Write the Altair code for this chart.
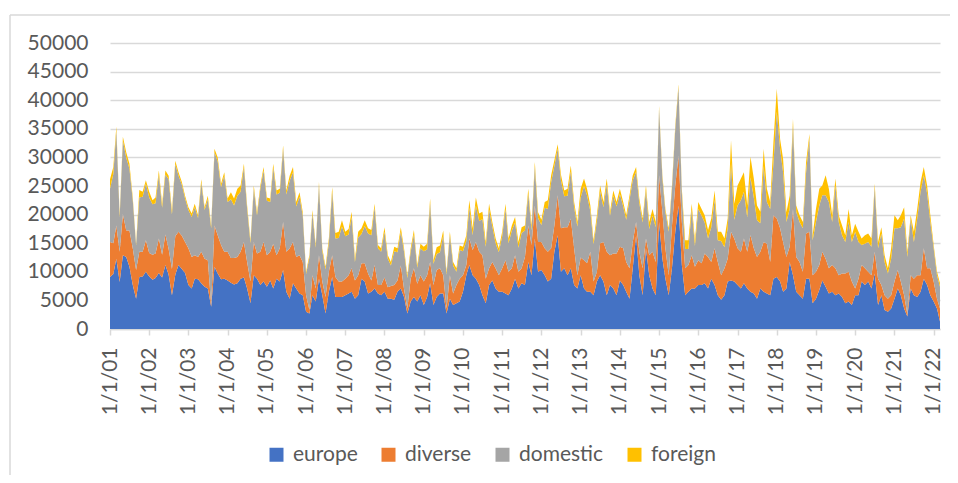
import altair as alt
import pandas as pd

series_names = ["europe", "diverse", "domestic", "foreign"]
series_colors = ["#4472C4", "#ED7D31", "#A5A5A5", "#FFC000"]

# monthly values, Jan 2001 .. Mar 2022 (one row per year)
europe = [
    9100, 9600, 12300, 8200, 12900, 12600, 10900, 7700, 5300, 9100, 9200, 10000,
    9200, 8600, 8900, 9800, 9000, 11200, 9500, 5900, 9500, 11200, 10500, 9800,
    7700, 7100, 8800, 8700, 8000, 7400, 7100, 3900, 10900, 9700, 8700, 8800,
    8500, 8100, 7800, 8000, 8800, 9000, 7100, 4500, 9400, 8800, 7700, 8300,
    7400, 8500, 7100, 8800, 8300, 10300, 6500, 5300, 8000, 7100, 6200, 5900,
    3000, 2700, 5900, 4800, 8800, 5900, 2700, 6500, 9100, 5600, 5600, 5600,
    5900, 6200, 6500, 5300, 5900, 8800, 8300, 6200, 6500, 7100, 6200, 5900,
    6500, 5300, 5300, 5100, 6500, 7100, 5600, 2700, 4800, 5600, 4800, 5900,
    4200, 5600, 8000, 4200, 5600, 6200, 6200, 2700, 5300, 4200, 4500, 4800,
    6500, 9400, 11200, 9400, 8800, 7700, 5900, 4500, 7700, 8500, 7100, 6500,
    6500, 6200, 5900, 7100, 8800, 7100, 8000, 7700, 11700, 9400, 15800, 10000,
    10300, 9400, 8300, 8800, 13500, 16400, 10000, 10600, 9400, 10600, 7700, 7100,
    9400, 7100, 6500, 6500, 5900, 8300, 9400, 8300, 5900, 7700, 7100, 5900,
    8500, 7700, 6500, 5300, 10600, 16400, 9400, 5900, 14100, 9400, 7100, 5900,
    18700, 12300, 8800, 5900, 10600, 17000, 21600, 11200, 5900, 6500, 7100, 7100,
    7700, 7700, 8000, 7100, 8800, 7700, 5900, 5100, 5900, 8300, 8500, 8300,
    7700, 7100, 8000, 7100, 6500, 6200, 5300, 7100, 6500, 6200, 5900, 8800,
    9100, 8300, 6500, 7100, 11700, 9400, 6500, 5900, 5300, 8800, 8800, 4500,
    5300, 6800, 8500, 7400, 6200, 6500, 5900, 6200, 5600, 4500, 4800, 4200,
    5900, 5900, 8300, 7700, 8300, 7100, 9700, 4200, 5900, 3300, 3000, 3600,
    5300, 7100, 5900, 3600, 2200, 7100, 5900, 5600, 6500, 8800, 7700, 5900,
    4800, 3600, 1300,
]
diverse = [
    6100, 5400, 5800, 5300, 7200, 4600, 6300, 6400, 5000, 4400, 4300, 5500,
    4100, 4400, 4300, 6000, 4000, 5300, 4500, 4600, 6700, 5800, 5800, 5400,
    6400, 5500, 4100, 3900, 5500, 4900, 4900, 300, 7200, 6700, 6000, 4700,
    5000, 4300, 4600, 4600, 4700, 6200, 4600, 3800, 5800, 4400, 5800, 6900,
    5500, 5000, 7800, 4100, 5800, 8400, 7000, 8800, 7200, 5500, 6700, 5800,
    2900, 600, 3500, 2300, 4100, 2400, 2900, 3500, 3800, 3500, 2700, 2700,
    2900, 3200, 4100, 3200, 3500, 2700, 3200, 3500, 2000, 4100, 1500, 1800,
    2500, 2000, 2200, 2600, 2000, 4000, 1400, 900, 4000, 5000, 3100, 3500,
    4100, 3800, 3700, 3500, 4700, 4400, 3200, 900, 4100, 2000, 3200, 4000,
    2900, 1800, 4600, 4400, 6400, 5800, 7000, 4300, 2900, 3200, 3500, 2900,
    4100, 5800, 4100, 3500, 4100, 2900, 2600, 4900, 6400, 5300, 5800, 5200,
    4900, 4700, 5200, 5300, 4600, 7000, 7600, 7200, 8400, 8700, 6400, 2300,
    3100, 4900, 5000, 7000, 2400, 1700, 5600, 6900, 7600, 5200, 6100, 7300,
    5900, 6400, 5200, 5300, 4600, 2300, 4100, 4700, 1700, 3500, 6400, 5800,
    8200, 8200, 5300, 3500, 7400, 8100, 8700, 7500, 4700, 4700, 5800, 3800,
    4300, 3800, 5200, 5500, 2900, 6400, 5800, 4300, 4700, 4000, 8500, 7500,
    6400, 6400, 7800, 6400, 9900, 7900, 7300, 6400, 8700, 8700, 5800, 11100,
    10200, 9300, 8700, 5500, 2700, 11600, 6100, 5800, 4700, 7900, 8200, 4900,
    4700, 4400, 5000, 4900, 4400, 4700, 4700, 3200, 4100, 5200, 5200, 4100,
    1200, 2900, 2900, 2900, 1700, 2300, 3800, 4600, 1800, 2600, 2300, 2300,
    3000, 3200, 2400, 2300, 400, 2300, 2900, 3800, 2900, 5300, 2900, 4700,
    3500, 1700, 2300,
]
domestic = [
    9300, 12100, 16500, 6000, 12800, 12800, 10800, 8400, 4300, 9500, 9600, 9900,
    9700, 8800, 8800, 11200, 8200, 10500, 12200, 9500, 12600, 9800, 8900, 7600,
    6700, 7000, 8400, 6800, 12100, 8500, 10700, 13400, 12800, 12900, 10100, 13300,
    8700, 10300, 9200, 10700, 10500, 13100, 9300, 6700, 9300, 6700, 11000, 12500,
    9500, 8700, 13300, 10600, 9700, 12800, 10000, 11800, 12200, 8800, 10200, 8100,
    3700, 9200, 10800, 7100, 12200, 5300, 4800, 5100, 11100, 6700, 7600, 9600,
    7400, 7100, 9000, 3200, 6600, 5100, 6500, 7000, 7900, 10100, 6400, 5800,
    8000, 5000, 3600, 5900, 4900, 5900, 6500, 5300, 4700, 5900, 2800, 4700,
    5300, 4500, 10300, 3700, 2800, 2800, 7000, 5900, 7000, 4900, 2300, 5000,
    4200, 4200, 5400, 2600, 6400, 5400, 6300, 5600, 10300, 6200, 4400, 4000,
    5600, 9000, 5000, 6600, 5700, 4200, 6200, 4600, 5600, 2500, 6800, 4200,
    3000, 7100, 7500, 11600, 10400, 8100, 8400, 5400, 5500, 8300, 7200, 8500,
    10500, 13000, 11900, 7100, 6500, 8900, 9100, 6100, 11800, 6900, 10100, 8200,
    9200, 7300, 7400, 12000, 10800, 8800, 8500, 8000, 8500, 4600, 6300, 6100,
    11600, 5800, 6300, 7600, 6500, 9900, 12000, 5100, 3400, 2800, 8000, 3600,
    9000, 8300, 5400, 3200, 6100, 8500, 3800, 6000, 3700, 5300, 12000, 3300,
    7500, 9000, 8200, 6000, 10100, 8900, 6400, 5000, 13300, 7300, 9300, 9100,
    18700, 13900, 12200, 6100, 6600, 14600, 7900, 7000, 7600, 10700, 16300, 6100,
    8700, 10400, 9900, 11100, 11600, 7500, 14500, 9300, 6700, 5500, 8700, 6900,
    9900, 6400, 3500, 4300, 5200, 5000, 11300, 5300, 9000, 5800, 4400, 6400,
    9300, 7300, 9500, 13400, 10000, 9900, 6400, 9900, 14600, 12800, 13100, 8100,
    5800, 4100, 3800,
]
foreign = [
    1700, 1200, 800, 500, 700, 900, 900, 500, 300, 1300, 900, 600,
    1000, 700, 1000, 700, 700, 700, 600, 700, 600, 600, 500, 500,
    500, 600, 600, 500, 600, 500, 600, 500, 600, 700, 600, 600,
    600, 1200, 1200, 1200, 1100, 600, 600, 500, 600, 500, 600, 600,
    600, 600, 700, 700, 700, 600, 700, 900, 900, 800, 800, 600,
    400, 500, 600, 500, 600, 500, 500, 700, 800, 1000, 1100, 1100,
    800, 1000, 900, 600, 1000, 1000, 1000, 900, 900, 600, 600, 600,
    800, 600, 600, 800, 700, 800, 600, 500, 600, 800, 500, 800,
    800, 1000, 800, 600, 1200, 1200, 800, 500, 600, 600, 600, 800,
    800, 1000, 1300, 1200, 1400, 1300, 1300, 800, 1000, 800, 800, 700,
    800, 900, 800, 900, 1000, 1000, 1000, 900, 800, 900, 800, 1000,
    900, 1000, 1500, 1200, 1000, 800, 1000, 1000, 1200, 1000, 900, 800,
    1500, 1300, 1100, 1000, 700, 1000, 1000, 900, 1000, 700, 900, 800,
    900, 800, 800, 800, 900, 800, 800, 700, 800, 1200, 1200, 900,
    500, 600, 600, 600, 600, 600, 500, 700, 1500, 1500, 1000, 1000,
    1200, 1200, 1300, 1500, 1500, 1600, 1500, 1600, 1500, 1700, 4000, 2800,
    3500, 3800, 3400, 2100, 3600, 3300, 2600, 2000, 3000, 2300, 1200, 3700,
    4000, 1700, 2300, 1700, 2300, 1100, 1100, 1200, 1100, 1800, 800, 900,
    2300, 2900, 1700, 3500, 2300, 1200, 1200, 1200, 1700, 1200, 2300, 1200,
    1400, 1800, 1100, 1500, 1500, 1400, 600, 1100, 1100, 1200, 900, 1800,
    2300, 1400, 2100, 2000, 900, 600, 1800, 1700, 1700, 1400, 1400, 1200,
    600, 600, 600,
]

n = len(europe)
assert n == len(diverse) == len(domestic) == len(foreign) == 255, (len(europe), len(diverse), len(domestic), len(foreign))
dates = [f"{2001 + i // 12:04d}-{i % 12 + 1:02d}-01T00:00:00" for i in range(n)]

rows = []
for k, (name, vals) in enumerate(zip(series_names, [europe, diverse, domestic, foreign])):
    for d, v in zip(dates, vals):
        rows.append({"date": d, "series": name, "value": v, "order": k})
df = pd.DataFrame(rows)

FONT = "Lato"
GRID = "#D9D9D9"
TXT = "#595959"

area = alt.Chart(df).mark_area(interpolate="linear", opacity=1).encode(
    x=alt.X(
        "date:T",
        title=None,
        scale=alt.Scale(domain=[dates[0], dates[-1]], nice=False),
        axis=alt.Axis(
            format="%-m/%-d/%y",
            tickCount={"interval": "year", "step": 1},
            labelAngle=270,
            labelAlign="right",
            labelBaseline="middle",
            labelFont=FONT,
            labelFontSize=21,
            labelColor=TXT,
            labelPadding=12,
            tickSize=6,
            tickColor=GRID,
            tickWidth=1.5,
            domainColor=GRID,
            domainWidth=1.5,
            grid=False,
            labelOverlap=False,
            labelFlush=False,
        ),
    ),
    y=alt.Y(
        "value:Q",
        stack="zero",
        title=None,
        scale=alt.Scale(domain=[0, 50000], nice=False),
        axis=alt.Axis(
            values=list(range(0, 50001, 5000)),
            format="d",
            labelFont=FONT,
            labelFontSize=21,
            labelColor=TXT,
            labelPadding=22,
            ticks=False,
            domain=False,
            grid=True,
            gridColor=GRID,
            gridWidth=1.5,
        ),
    ),
    color=alt.Color(
        "series:N",
        scale=alt.Scale(domain=series_names, range=series_colors),
        legend=alt.Legend(
            title=None,
            orient="none",
            legendX=156,
            legendY=401,
            direction="horizontal",
            symbolType="square",
            symbolSize=196,
            symbolStrokeWidth=0,
            labelFont=FONT,
            labelFontSize=21,
            labelColor=TXT,
            labelOffset=6,
            columnPadding=20,
        ),
    ),
    order=alt.Order("order:Q", sort="ascending"),
)

border = alt.Chart(pd.DataFrame({"k": [0]})).mark_rule(color=GRID, strokeWidth=1.5).encode(
    x=alt.value(-100), y=alt.value(-28), y2=alt.value(460)
)
border_top = alt.Chart(pd.DataFrame({"k": [0]})).mark_rule(color=GRID, strokeWidth=1.5).encode(
    x=alt.value(-100), x2=alt.value(850), y=alt.value(-28)
)

chart = alt.layer(area, border, border_top).properties(
    width=830,
    height=286,
    autosize=alt.AutoSizeParams(type="none"),
    padding={"left": 102, "top": 35, "right": 10, "bottom": 146},
    background="white",
).configure_view(stroke=None)

chart.save("out.html", embed_options={"renderer": "svg", "actions": False})
